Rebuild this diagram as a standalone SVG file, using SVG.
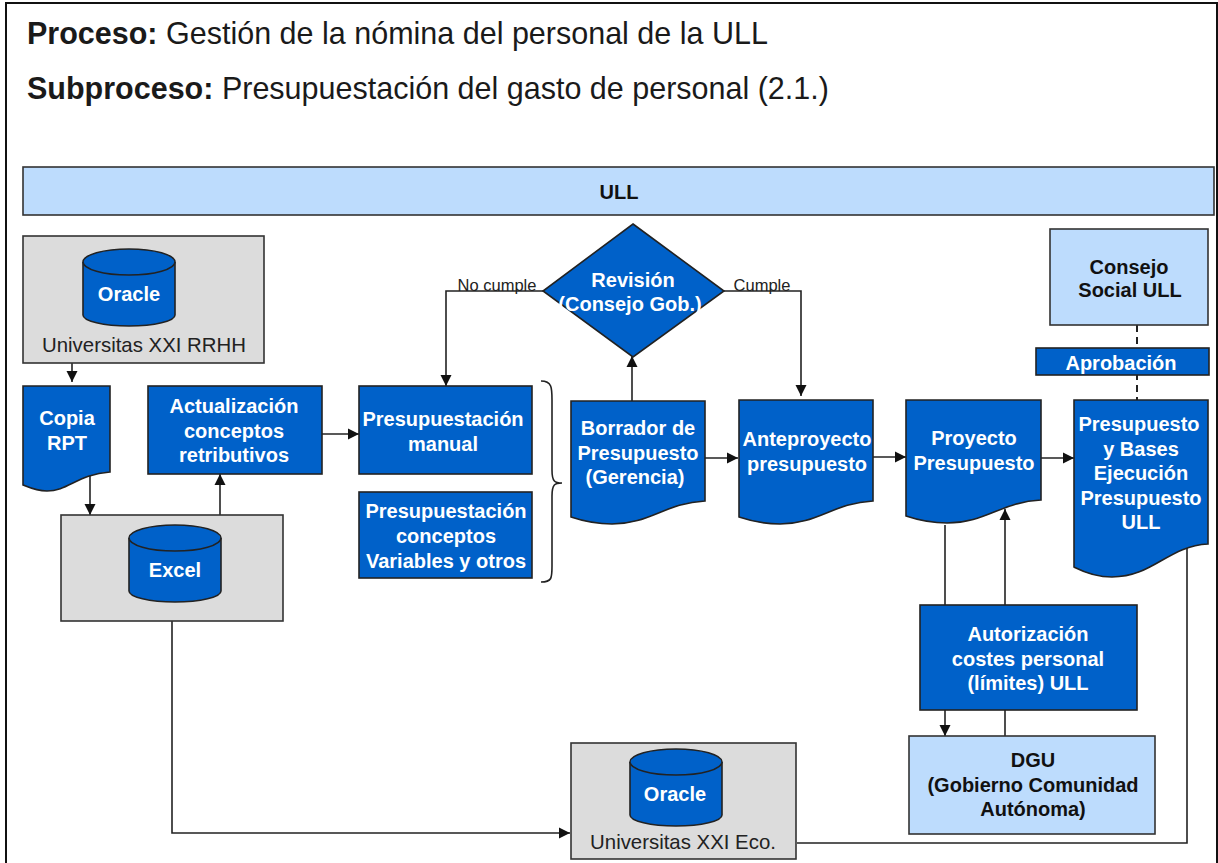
<svg xmlns="http://www.w3.org/2000/svg" width="1218" height="863" viewBox="0 0 1218 863">
<style>
text{font-family:"Liberation Sans",Arial,sans-serif;text-anchor:middle}
.b{fill:#0061c9;stroke:#222;stroke-width:1.6}
.l{fill:#bddcfd;stroke:#333;stroke-width:1.6}
.g{fill:#dcdcdc;stroke:#333;stroke-width:1.6}
.w{font-size:20px;font-weight:bold;fill:#fff}
.k{font-size:20px;font-weight:bold;fill:#111}
.t{font-size:20.4px;fill:#222}
.c{fill:none;stroke:#222;stroke-width:1.6}
.s{font-size:16.5px;fill:#222}
</style>
<defs>
<marker id="a" markerWidth="12" markerHeight="12" refX="11" refY="6" orient="auto" markerUnits="userSpaceOnUse"><path d="M0 0.5L11 6L0 11.5Z" fill="#111"/></marker>
<g id="cyl"><path class="b" d="M-46 -31V22A46 11 0 0 0 46 22V-31"/><ellipse class="b" cx="0" cy="-31" rx="46" ry="13"/></g>
</defs>
<rect x="0" y="0" width="1218" height="863" fill="#fff"/>
<path d="M6 863V3H1217V863" fill="none" stroke="#111" stroke-width="2"/>
<g id="titulo">
<text x="27" y="44" font-size="30.5" style="text-anchor:start;fill:#1a1a1a"><tspan font-weight="bold">Proceso:</tspan> Gestión de la nómina del personal de la ULL</text>
<text x="27" y="99" font-size="30.5" style="text-anchor:start;fill:#1a1a1a"><tspan font-weight="bold">Subproceso:</tspan> Presupuestación del gasto de personal (2.1.)</text>
</g>
<g id="connectors">
<path class="c" marker-end="url(#a)" d="M72 363V382"/>
<path class="c" marker-end="url(#a)" d="M90 475V515"/>
<path class="c" marker-end="url(#a)" d="M220 515V474"/>
<path class="c" marker-end="url(#a)" d="M322 434H359"/>
<path class="c" marker-end="url(#a)" d="M632 401V356"/>
<path class="c" marker-end="url(#a)" d="M543 291H446V386"/>
<path class="c" marker-end="url(#a)" d="M724 291H801V396"/>
<path class="c" marker-end="url(#a)" d="M705 458H738"/>
<path class="c" marker-end="url(#a)" d="M873 457H906"/>
<path class="c" marker-end="url(#a)" d="M1041 458H1074"/>
<path class="c" marker-end="url(#a)" d="M945 525V736"/>
<path class="c" marker-end="url(#a)" d="M1005 736V509"/>
<path class="c" marker-end="url(#a)" d="M172 621V833H570"/>
<path class="c" d="M797 843H1187V548"/>
<path class="c" stroke-dasharray="7 5" style="stroke-width:2" d="M1137 325V402"/>
<path class="c" d="M541 381C552 381 552 388 552 400V470C552 482 555 483 562 483C555 483 552 484 552 496V566C552 578 552 582 541 582"/>
</g>
<g id="ull"><rect class="l" x="23" y="167" width="1191" height="48"/><text class="k" x="619" y="199">ULL</text></g>
<g id="rrhh"><rect class="g" x="23" y="236" width="241" height="127"/><use href="#cyl" x="129" y="293"/><text class="w" x="129" y="301">Oracle</text><text class="t" x="144" y="352">Universitas XXI RRHH</text></g>
<g id="copia"><path class="b" d="M23 386H110V472C78 474 68 491 47 491C36 491 28 487 23 485Z"/><text class="w" x="67" y="425">Copia</text><text class="w" x="67" y="450">RPT</text></g>
<g id="excel"><rect class="g" x="61" y="515" width="222" height="106"/><use href="#cyl" x="175" y="569"/><text class="w" x="175" y="577">Excel</text></g>
<g id="actualizacion"><rect class="b" x="148" y="386" width="174" height="88"/><text class="w" x="234" y="413">Actualización</text><text class="w" x="234" y="438">conceptos</text><text class="w" x="234" y="462">retributivos</text></g>
<g id="manual"><rect class="b" x="359" y="386" width="173" height="88"/><text class="w" x="443" y="426">Presupuestación</text><text class="w" x="443" y="451">manual</text></g>
<g id="variables"><rect class="b" x="359" y="492" width="173" height="86"/><text class="w" x="446" y="518">Presupuestación</text><text class="w" x="446" y="543">conceptos</text><text class="w" x="446" y="568">Variables y otros</text></g>
<g id="revision"><path class="b" d="M633 224L724 291L633 357L543 291Z"/><text class="w" x="633" y="287">Revisión</text><text class="w" x="630" y="311">(Consejo Gob.)</text><text class="s" x="497" y="291">No cumple</text><text class="s" x="762" y="291">Cumple</text></g>
<g id="borrador"><path class="b" d="M571 401H705V501C665 503 650 524 612 524C593 524 580 520 571 517Z"/><text class="w" x="638" y="435">Borrador de</text><text class="w" x="638" y="460">Presupuesto</text><text class="w" x="635" y="484">(Gerencia)</text></g>
<g id="anteproyecto"><path class="b" d="M739 400H873V501C833 503 818 524 780 524C761 524 748 520 739 517Z"/><text class="w" x="807" y="446">Anteproyecto</text><text class="w" x="807" y="471">presupuesto</text></g>
<g id="proyecto"><path class="b" d="M906 400H1041V500C1001 502 986 523 947 523C928 523 915 519 906 516Z"/><text class="w" x="974" y="445">Proyecto</text><text class="w" x="974" y="470">Presupuesto</text></g>
<g id="consejo"><rect class="l" x="1050" y="229" width="158" height="96"/><text class="k" x="1129" y="274">Consejo</text><text class="k" x="1130" y="297">Social ULL</text></g>
<g id="aprobacion"><rect class="b" x="1036" y="348" width="173" height="27"/><text class="w" x="1121" y="370">Aprobación</text></g>
<g id="presupuesto"><path class="b" d="M1074 400H1208V544C1168 546 1153 577 1112 577C1093 577 1080 570 1074 567Z"/><text class="w" x="1139" y="431">Presupuesto</text><text class="w" x="1141" y="456">y Bases</text><text class="w" x="1141" y="480">Ejecución</text><text class="w" x="1141" y="505">Presupuesto</text><text class="w" x="1141" y="529">ULL</text></g>
<g id="autorizacion"><rect class="b" x="920" y="605" width="217" height="105"/><text class="w" x="1028" y="641">Autorización</text><text class="w" x="1028" y="666">costes personal</text><text class="w" x="1028" y="690">(límites) ULL</text></g>
<g id="dgu"><rect class="l" x="909" y="736" width="246" height="98"/><text class="k" x="1033" y="767">DGU</text><text class="k" x="1033" y="792">(Gobierno Comunidad</text><text class="k" x="1033" y="816">Autónoma)</text></g>
<g id="eco"><rect class="g" x="571" y="743" width="225" height="116"/><use href="#cyl" x="676" y="793"/><text class="w" x="675" y="801">Oracle</text><text class="t" x="683" y="849">Universitas XXI Eco.</text></g>
</svg>
